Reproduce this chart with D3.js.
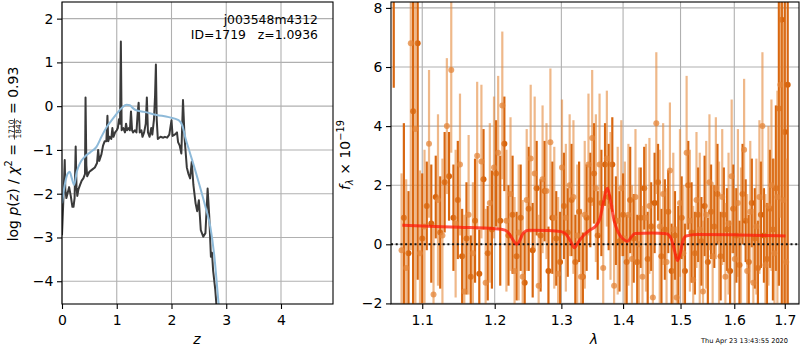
<!DOCTYPE html>
<html><head><meta charset="utf-8">
<script src="https://cdn.jsdelivr.net/npm/d3@7"></script>
<style>
body{margin:0;background:#fff}
text{font-family:"DejaVu Sans",sans-serif}
</style></head><body>
<svg id="fig" width="800" height="350"></svg>
<script>
var objName = "j003548m4312", objInfo = "ID=1719   z=1.0936", stamp = "Thu Apr 23 13:43:55 2020";

var zTicks = [0, 1, 2, 3, 4], lpTicks = [-4, -3, -2, -1, 0, 1, 2];
var wTicks = [1.1, 1.2, 1.3, 1.4, 1.5, 1.6, 1.7], fTicks = [-2, 0, 2, 4, 6, 8];

var chiZ = [0,0.02,0.04,0.05,0.06,0.08,0.10,0.13,0.16,0.19,0.21,0.23,0.25,0.265,0.28,0.30,0.33,0.36,0.39,0.42,0.43,0.445,0.46,0.50,0.55,0.60,0.64,0.66,0.68,0.72,0.75,0.78,0.81,0.83,0.845,0.87,0.90,0.92,0.94,0.97,1.00,1.02,1.04,1.06,1.075,1.09,1.12,1.15,1.17,1.19,1.22,1.24,1.26,1.28,1.30,1.33,1.36,1.38,1.40,1.42,1.45,1.47,1.50,1.53,1.55,1.57,1.60,1.63,1.65,1.68,1.70,1.715,1.73,1.75,1.80,1.85,1.88,1.92,1.96,2.00,2.02,2.06,2.10,2.12,2.15,2.18,2.21,2.24,2.28,2.31,2.34,2.37,2.40,2.44,2.47,2.50,2.535,2.58,2.62,2.66,2.69,2.72,2.74,2.76,2.80,2.83];
var chiLogP = [-2.95,-2.3,-1.6,-1.23,-1.9,-2.1,-2.0,-1.85,-2.05,-2.3,-2.3,-2.1,-0.92,-1.85,-2.05,-1.9,-1.8,-1.7,-1.65,-1.55,0.2,-1.35,-1.6,-1.5,-1.45,-1.4,-1.3,-1.0,-1.25,-1.1,-0.9,-0.8,-0.8,-0.22,-0.8,-0.7,-0.75,-0.5,-0.7,-0.6,-0.55,-0.5,-0.3,-0.4,1.48,-0.55,-0.5,-0.6,-0.4,-0.55,-0.5,-0.55,-0.12,-0.55,-0.6,-0.55,-0.6,-0.2,0.08,-0.6,-0.55,-0.7,-0.6,-0.4,0.2,-0.6,-0.7,-0.5,-0.65,-0.3,0.25,0.95,-0.3,-0.75,-0.7,-0.72,-0.7,-0.72,-0.65,-0.32,-0.68,-0.65,-0.6,-0.82,-0.9,-1.08,0.14,-0.75,-1.4,-1.55,-1.65,-1.27,-1.8,-2.22,-2.4,-2.15,-2.83,-2.98,-2.9,-1.88,-2.53,-3.44,-3.35,-3.75,-4.2,-4.7];

var priorZ = [0,0.05,0.10,0.14,0.18,0.22,0.27,0.33,0.42,0.52,0.63,0.72,0.82,0.92,1.00,1.10,1.18,1.24,1.30,1.37,1.50,1.73,1.95,2.13,2.20,2.26,2.34,2.43,2.52,2.62,2.71,2.78,2.86,2.90];
var priorLogP = [-2.22,-1.8,-1.55,-1.5,-1.65,-1.8,-1.5,-1.3,-1.15,-1.05,-0.93,-0.7,-0.47,-0.3,-0.17,-0.03,0.03,0.02,-0.05,-0.1,-0.13,-0.2,-0.25,-0.32,-0.45,-0.75,-1.08,-1.45,-1.84,-2.3,-2.76,-3.4,-4.5,-5];

var darkWave = [1.063,1.076,1.082,1.088,1.094,1.100,1.106,1.112,1.118,1.124,1.130,1.136,1.142,1.148,1.154,1.160,1.166,1.172,1.178,1.184,1.190,1.196,1.202,1.208,1.214,1.220,1.226,1.232,1.238,1.244,1.250,1.256,1.262,1.268,1.274,1.280,1.286,1.292,1.298,1.304,1.310,1.316,1.322,1.328,1.334,1.340,1.346,1.352,1.358,1.364,1.370,1.376,1.382,1.388,1.394,1.400,1.406,1.412,1.418,1.424,1.430,1.436,1.442,1.448,1.454,1.460,1.466,1.472,1.478,1.484,1.490,1.496,1.502,1.508,1.514,1.520,1.526,1.532,1.538,1.544,1.550,1.556,1.562,1.568,1.574,1.580,1.586,1.592,1.598,1.604,1.610,1.616,1.622,1.628,1.634,1.640,1.646,1.652,1.658,1.664,1.670,1.676,1.682,1.688,1.694,1.700,1.706];
var darkFlux = [10,0.9,-0.3,4.5,6.8,0.2,1.3,0.7,1.6,0.4,2.1,2.3,0.9,1.5,-0.4,0.2,-1.1,0.8,-1.0,2.2,-0.3,0.5,2.4,0.8,3.4,0.3,1.0,-0.4,0.9,-1.3,1.2,-0.2,1.9,0.3,1.8,-0.9,0.9,0.2,-0.6,1.3,0.4,1.5,-0.6,1.1,-1.1,0.9,1.5,2.4,0.3,1.4,2.7,1.6,2.7,0.8,0.1,1.0,-0.6,1.5,0.2,-0.6,0.9,1.9,-0.5,0.6,1.4,2.1,-0.4,0.5,1.1,-0.9,0.3,-0.4,0.9,-0.9,2.0,0.4,-0.3,1.0,0.1,1.3,-0.6,1.1,0.6,1.7,-0.4,1.0,0.5,-0.9,1.2,0.3,-0.7,1.7,0.8,-0.6,1.4,0.2,-0.8,1.0,0.3,-0.5,1.2,0.5,1.9,4.6,7.6,3.8,5.4];
var darkErr = [4.7,3.2,2.1,9,8,2.2,1.5,2.0,1.4,1.9,1.7,1.5,1.8,2.0,1.6,1.9,1.4,2.1,1.5,1.7,1.6,2.0,1.8,2.2,1.6,1.7,2.0,1.5,1.8,1.7,2.1,1.6,1.6,1.9,1.7,1.5,1.9,1.6,1.7,1.8,1.5,1.9,1.6,1.7,1.5,1.8,1.6,1.7,1.5,1.8,1.4,1.8,1.6,1.5,1.7,1.4,1.6,1.8,1.5,1.6,1.7,1.4,1.6,1.5,1.7,1.3,1.6,1.7,1.4,1.6,1.5,1.7,1.4,1.6,1.5,1.7,1.4,1.6,1.5,1.7,1.5,1.6,1.4,1.7,1.5,1.6,1.4,1.7,1.5,1.6,1.5,1.7,1.4,1.6,1.5,1.7,1.6,1.8,1.6,1.9,2.0,2.4,2.8,6,12,10,9];

var lightWave = [1.073,1.079,1.085,1.091,1.097,1.103,1.109,1.115,1.121,1.127,1.133,1.139,1.145,1.151,1.157,1.163,1.169,1.175,1.181,1.187,1.193,1.199,1.205,1.211,1.217,1.223,1.229,1.235,1.241,1.247,1.253,1.259,1.265,1.271,1.277,1.283,1.289,1.295,1.301,1.307,1.313,1.319,1.325,1.331,1.337,1.343,1.349,1.355,1.361,1.367,1.373,1.379,1.385,1.391,1.397,1.403,1.409,1.415,1.421,1.427,1.433,1.439,1.445,1.451,1.457,1.463,1.469,1.475,1.481,1.487,1.493,1.499,1.505,1.511,1.517,1.523,1.529,1.535,1.541,1.547,1.553,1.559,1.565,1.571,1.577,1.583,1.589,1.595,1.601,1.607,1.613,1.619,1.625,1.631,1.637,1.643,1.649,1.655,1.661,1.667,1.673,1.679,1.685,1.691,1.697,1.703];
var lightFlux = [-0.2,-0.8,6.8,3.9,-0.3,0.6,3.4,-1.7,1.5,0.3,4.0,5.9,0.7,2.7,-1.6,1.0,-0.3,3.0,2.8,-1.3,1.4,2.6,3.1,4.7,0.8,1.7,-0.9,0.4,-1.1,1.5,2.9,2.4,-1.4,2.2,1.8,3.45,0.9,-1.0,2.6,0.9,2.0,1.6,0.3,-1.1,1.0,2.7,3.6,1.9,2.7,-0.8,2.9,1.3,-1.4,0.8,1.9,0.2,1.0,-0.5,1.6,0.0,-1.1,0.9,1.3,-1.8,4.1,0.6,1.7,-0.6,2.5,0.5,-1.8,1.4,-0.3,3.1,0.8,-1.2,1.5,0.5,-1.6,1.0,2.1,-0.4,1.9,0.2,1.6,-1.1,0.7,2.3,-0.5,1.4,0.3,3.2,-0.9,1.1,-1.3,0.6,1.6,4.0,-0.7,1.3,2.0,-0.3,1.6,5.4,1.5,-0.6];
var lightErr = [2.6,3.0,7,6,2.8,2.6,2.5,2.4,2.9,2.6,2.3,2.8,2.5,2.4,2.6,2.7,2.4,2.5,2.6,2.5,2.7,2.4,2.6,2.5,2.4,2.6,2.5,2.3,2.6,2.4,2.5,2.6,2.4,2.5,2.3,2.5,2.4,2.6,2.3,2.5,2.4,2.6,2.4,2.3,2.5,2.4,2.3,2.5,2.4,2.6,2.3,2.5,2.4,2.5,2.3,2.6,2.4,2.5,2.3,2.6,2.4,2.5,2.3,2.5,2.4,2.6,2.4,2.5,2.3,2.6,2.4,2.5,2.3,2.6,2.4,2.5,2.3,2.6,2.4,2.5,2.3,2.5,2.4,2.6,2.3,2.5,2.4,2.6,2.4,2.5,2.3,2.4,2.6,2.4,2.5,2.3,2.6,2.5,2.4,2.7,2.9,3.2,3.6,4.5,6,3.5];

var modelWave = [1.074,1.10,1.15,1.20,1.215,1.222,1.228,1.232,1.236,1.242,1.25,1.28,1.30,1.308,1.315,1.3205,1.326,1.335,1.345,1.355,1.362,1.368,1.3738,1.379,1.385,1.392,1.40,1.4077,1.414,1.42,1.45,1.475,1.483,1.489,1.4945,1.499,1.504,1.51,1.53,1.60,1.66,1.7015];
var modelFlux = [0.65,0.62,0.58,0.53,0.48,0.33,0.1,0.0,0.1,0.38,0.48,0.47,0.43,0.32,0.08,-0.12,0.05,0.3,0.48,0.62,0.9,1.5,1.9,1.5,0.8,0.4,0.18,0.1,0.25,0.37,0.38,0.36,0.2,-0.2,-0.55,-0.35,0.1,0.28,0.33,0.32,0.3,0.28];

var svg = d3.select("#fig");
var yTop = 2, yBot = 304;

var zx = d3.scaleLinear().domain([0, 4.95]).range([62, 333]),
    zy = d3.scaleLinear().domain([-4.52, 2.38]).range([yBot, yTop]);
var lx = d3.scaleLog().domain([1.0595, 1.7293]).range([391, 799]),
    fy = d3.scaleLinear().domain([-2.02, 8.2]).range([yBot, yTop]);

function panel(id, x, y, xt, yt) {
  var g = svg.append("g");
  g.append("clipPath").attr("id", id).append("rect")
    .attr("x", x.range()[0]).attr("y", yTop).attr("width", x.range()[1] - x.range()[0]).attr("height", yBot - yTop);
  g.append("g").selectAll("line").data(xt).join("line")
    .attr("x1", d=>x(d)).attr("x2", d=>x(d)).attr("y1", yTop).attr("y2", yBot)
    .attr("stroke", "#b0b0b0").attr("stroke-width", 1.1);
  g.append("g").selectAll("line").data(yt).join("line")
    .attr("y1", d=>y(d)).attr("y2", d=>y(d)).attr("x1", x.range()[0]).attr("x2", x.range()[1])
    .attr("stroke", "#b0b0b0").attr("stroke-width", 1.1);
  return g;
}

function frame(x, y, xt, yt, xf) {
  var ax = svg.append("g").attr("transform", "translate(0," + yBot + ")")
    .call(d3.axisBottom(x).tickValues(xt).tickFormat(xf).tickSize(5).tickPadding(6));
  var ay = svg.append("g").attr("transform", "translate(" + x.range()[0] + ",0)")
    .call(d3.axisLeft(y).tickValues(yt).tickFormat(d3.format("d")).tickSize(5).tickPadding(3.5));
  [ax, ay].forEach(function(a) {
    a.select(".domain").remove();
    a.selectAll("text").attr("font-size", 14).attr("fill", "#000").attr("font-family", "DejaVu Sans");
    a.selectAll("line").attr("stroke", "#000").attr("stroke-width", 1.1);
  });
  svg.append("rect").attr("x", x.range()[0]).attr("y", yTop)
    .attr("width", x.range()[1] - x.range()[0]).attr("height", yBot - yTop)
    .attr("fill", "none").attr("stroke", "#000").attr("stroke-width", 1.1);
}

// left: redshift fit
var gl = panel("clipL", zx, zy, zTicks, lpTicks);
var lines = gl.append("g").attr("clip-path", "url(#clipL)");
lines.append("path").datum(d3.zip(chiZ, chiLogP))
  .attr("d", d3.line().x(d=>zx(d[0])).y(d=>zy(d[1])))
  .attr("fill", "none").attr("stroke", "#3a3a3a").attr("stroke-width", 2).attr("stroke-linejoin", "round");
lines.append("path").datum(d3.zip(priorZ, priorLogP))
  .attr("d", d3.line().curve(d3.curveMonotoneX).x(d=>zx(d[0])).y(d=>zy(d[1])))
  .attr("fill", "none").attr("stroke", "#8ebad9").attr("stroke-width", 2);
frame(zx, zy, zTicks, lpTicks, d3.format("d"));

svg.append("text").attr("x", 318).attr("y", 24).attr("text-anchor", "end").attr("font-size", 12.4).text(objName);
svg.append("text").attr("x", 318).attr("y", 38.5).attr("text-anchor", "end").attr("font-size", 12.4)
  .style("white-space", "pre").text(objInfo);

// right: spectrum
var gr = panel("clipR", lx, fy, wTicks, fTicks);
var spec = gr.append("g").attr("clip-path", "url(#clipR)");

function errbars(wave, flux, err, bar, dot, op, dop) {
  var rows = d3.zip(wave, flux, err);
  var s = spec.append("g");
  s.selectAll("line").data(rows).join("line")
    .attr("x1", d=>lx(d[0])).attr("x2", d=>lx(d[0]))
    .attr("y1", d=>fy(d[1] - d[2])).attr("y2", d=>fy(d[1] + d[2]))
    .attr("stroke", bar).attr("stroke-width", 2.2).attr("opacity", op);
  s.selectAll("circle").data(rows).join("circle")
    .attr("cx", d=>lx(d[0])).attr("cy", d=>fy(d[1])).attr("r", 3)
    .attr("fill", dot).attr("opacity", dop);
}
errbars(darkWave, darkFlux, darkErr, "#d8660f", "#d8660f", 1, 1);
errbars(lightWave, lightFlux, lightErr, "#e68a3c", "#e4863a", 0.6, 0.75);

spec.append("line").attr("x1", lx.range()[0]).attr("x2", lx.range()[1]).attr("y1", fy(0)).attr("y2", fy(0))
  .attr("stroke", "#111").attr("stroke-width", 2).attr("stroke-dasharray", "2,2.7");
spec.append("path").datum(d3.zip(modelWave, modelFlux))
  .attr("d", d3.line().curve(d3.curveMonotoneX).x(d=>lx(d[0])).y(d=>fy(d[1])))
  .attr("fill", "none").attr("stroke", "#ff1a0a").attr("stroke-width", 3).attr("opacity", 0.75);
frame(lx, fy, wTicks, fTicks, d3.format(".1f"));

// axis labels
svg.append("text").attr("x", 197).attr("y", 344).attr("text-anchor", "middle")
  .attr("font-size", 14).attr("font-style", "italic").text("z");
svg.append("text").attr("x", 594).attr("y", 344).attr("text-anchor", "middle")
  .attr("font-size", 14).attr("font-style", "italic").text("λ");
svg.append("text").attr("x", 788).attr("y", 343).attr("text-anchor", "end")
  .attr("font-size", 6.6).text(stamp);

function mathLabel(cx, cy, segs) {
  var g = svg.append("g").attr("transform", "translate(" + cx + "," + cy + ") rotate(-90)");
  var x = 0;
  segs.forEach(function(s) {
    if (s.frac) {
      var a = g.append("text").attr("font-size", 7.5).attr("y", -4).text(s.frac[0]);
      var b = g.append("text").attr("font-size", 7.5).attr("y", 3.5).text(s.frac[1]);
      var w = Math.max(a.node().getComputedTextLength(), b.node().getComputedTextLength()) + 2;
      a.attr("x", x + w / 2).attr("text-anchor", "middle");
      b.attr("x", x + w / 2).attr("text-anchor", "middle");
      g.append("line").attr("x1", x).attr("x2", x + w).attr("y1", -3).attr("y2", -3)
        .attr("stroke", "#000").attr("stroke-width", 0.7);
      x += w;
      return;
    }
    var t = g.append("text").attr("x", x).attr("y", s.dy || 0).attr("font-size", s.size || 14)
      .attr("font-style", s.it ? "italic" : "normal").style("white-space", "pre").text(s.t);
    x += t.node().getComputedTextLength();
  });
  g.selectAll("*").attr("transform", "translate(" + (-x / 2) + ",0)");
}

mathLabel(17.5, 154, [
  {t: "log "}, {t: "p", it: 1}, {t: "("}, {t: "z", it: 1}, {t: ") / "}, {t: "χ", it: 1},
  {t: "2", size: 9.8, dy: -6}, {t: " = "}, {frac: ["1710", "1842"]}, {t: " = 0.93"}
]);
mathLabel(350, 155, [
  {t: "f", it: 1}, {t: "λ", it: 1, size: 9.8, dy: 3}, {t: " × 10"}, {t: "−19", size: 9.8, dy: -6}
]);
</script>
</body></html>
